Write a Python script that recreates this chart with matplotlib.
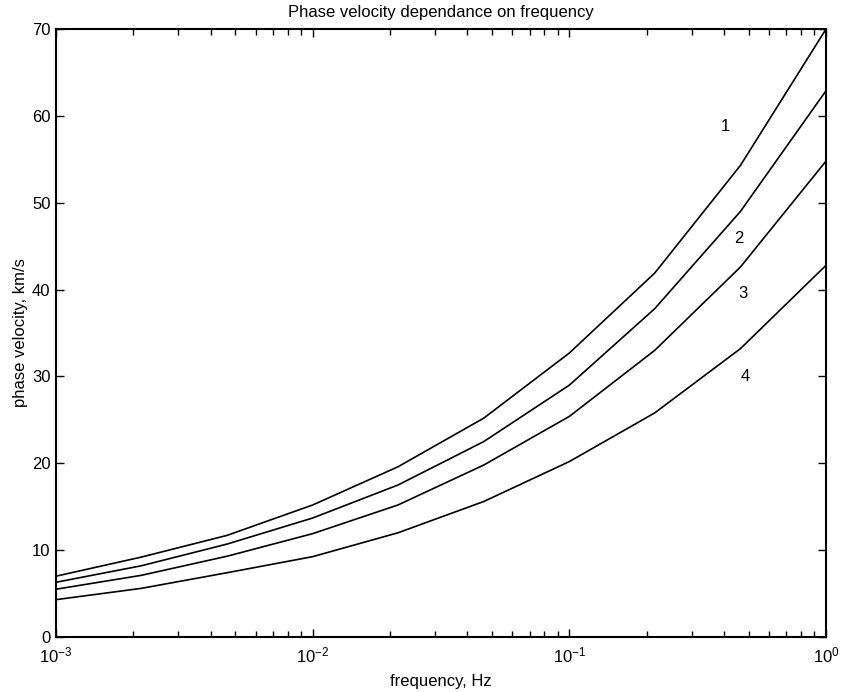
import matplotlib
matplotlib.use("Agg")
import matplotlib.pyplot as plt
from matplotlib.ticker import LogLocator, NullFormatter

plt.rcParams["font.family"] = ["Liberation Sans", "DejaVu Sans"]
plt.rcParams["mathtext.default"] = "regular"
plt.rcParams["axes.unicode_minus"] = False

# frequencies, Hz (logspace(-3, 0, 10))
freq = [0.001, 0.00215, 0.00464, 0.01, 0.0215, 0.0464, 0.1, 0.215, 0.464, 1.0]
# phase velocity, km/s
v1 = [7.0, 9.2, 11.7, 15.2, 19.6, 25.2, 32.7, 41.9, 54.3, 70.0]
v2 = [6.3, 8.2, 10.7, 13.7, 17.5, 22.5, 29.0, 37.8, 49.0, 62.9]
v3 = [5.5, 7.1, 9.3, 11.9, 15.2, 19.8, 25.4, 33.0, 42.6, 54.8]
v4 = [4.3, 5.6, 7.4, 9.25, 12.0, 15.6, 20.2, 25.8, 33.2, 42.8]
curves = [v1, v2, v3, v4]

labels = ["1", "2", "3", "4"]
label_x = [0.404, 0.458, 0.473, 0.483]
label_y = [58.8, 45.9, 39.6, 30.0]

FS = 12

fig = plt.figure(figsize=(8.41, 6.92), dpi=100)
ax = fig.add_axes([0.0666, 0.0795, 0.9156, 0.8785])

for v in curves:
    ax.plot(freq, v, color="black", lw=1.2)
for t, x, y in zip(labels, label_x, label_y):
    ax.text(x, y, t, ha="center", va="center", fontsize=FS)

ax.set_xscale("log")
ax.set_xlim(1e-3, 1)
ax.set_ylim(0, 70)
ax.set_yticks(range(0, 71, 10))
ax.xaxis.set_major_locator(LogLocator(base=10, numticks=10))
ax.xaxis.set_minor_locator(LogLocator(base=10, subs=range(2, 10), numticks=10))
ax.xaxis.set_minor_formatter(NullFormatter())

ax.tick_params(which="both", direction="in", top=True, right=True,
               labelsize=FS, width=1.0, color="black")
ax.tick_params(which="major", length=6)
ax.tick_params(which="minor", length=4)
ax.tick_params(axis="x", which="major", pad=6)
ax.tick_params(axis="y", which="major", pad=4)
for s in ax.spines.values():
    s.set_linewidth(1.5)

ax.set_title("Phase velocity dependance on frequency", fontsize=FS, pad=9)
ax.set_xlabel("frequency, Hz", fontsize=FS, labelpad=6)
ax.set_ylabel("phase velocity, km/s", fontsize=FS, labelpad=3)

fig.savefig("out.png", dpi=100, facecolor="white")
